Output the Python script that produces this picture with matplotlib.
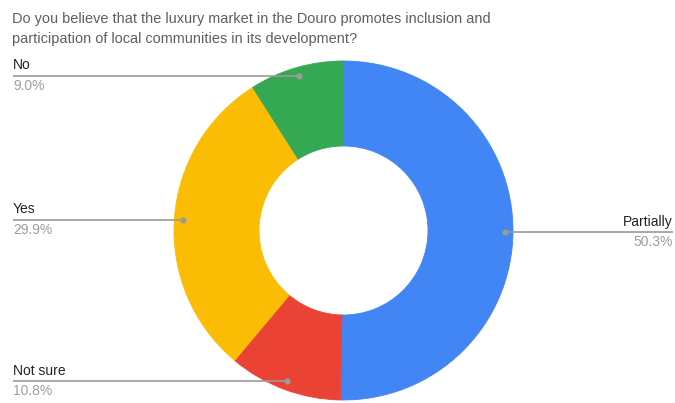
import numpy as np
import matplotlib
matplotlib.use("Agg")
from matplotlib import pyplot as plt

# survey answers, in drawing order (clockwise from 12 o'clock)
categories = ["Partially", "Not sure", "Yes", "No"]
shares = [50.3, 10.8, 29.9, 9.0]
colors = ["#4285F4", "#EA4335", "#FBBC04", "#34A853"]
title_lines = [
    "Do you believe that the luxury market in the Douro promotes inclusion and",
    "participation of local communities in its development?",
]

W, H = 675, 403
plt.rcParams["font.family"] = ["Liberation Sans", "DejaVu Sans"]

fig = plt.figure(figsize=(W / 100, H / 100), dpi=100)
ax = fig.add_axes([0, 0, 1, 1])

cx, cy = 343.5, H - 230.5
R = 169.5
hole = 84.5

wedges, _ = ax.pie(
    shares,
    colors=colors,
    radius=R,
    center=(cx, cy),
    startangle=90,
    counterclock=False,
    wedgeprops=dict(width=R - hole, linewidth=0),
)
# thin edge in the slice colour to close the hairline seams between slices
for w, c in zip(wedges, colors):
    w.set_edgecolor(c)
    w.set_linewidth(0.6)

ax.set_xlim(0, W)
ax.set_ylim(0, H)
ax.set_aspect("equal")
ax.axis("off")

# title, one text per line
for i, line in enumerate(title_lines):
    ax.text(12, H - 23 - i * 19.5, line, fontsize=10.45, color="#5f5f5f",
            va="baseline", ha="left")

# leader lines with a dot at 95% of the radius, label above, share below
total = sum(shares)
start = 90.0
for name, val in zip(categories, shares):
    sweep = val / total * 360
    mid = np.deg2rad(start - sweep / 2)
    start -= sweep
    dx = cx + 0.95 * R * np.cos(mid)
    dy = cy + 0.95 * R * np.sin(mid)
    if np.cos(mid) >= 0:
        x_end, ha = 673, "right"
    else:
        x_end, ha = 13, "left"
    ax.plot([dx, x_end], [dy, dy], color="#9a9a9a", lw=1.2, solid_capstyle="butt")
    ax.plot([dx], [dy], "o", color="#9a9a9a", ms=4.5, mec="none")
    ax.text(x_end, dy + 3.5, name, fontsize=10, color="#222222",
            ha=ha, va="bottom")
    ax.text(x_end, dy - 3, f"{val:.1f}%", fontsize=10, color="#9e9e9e",
            ha=ha, va="top")

fig.savefig("out.png", dpi=100, facecolor="white")
